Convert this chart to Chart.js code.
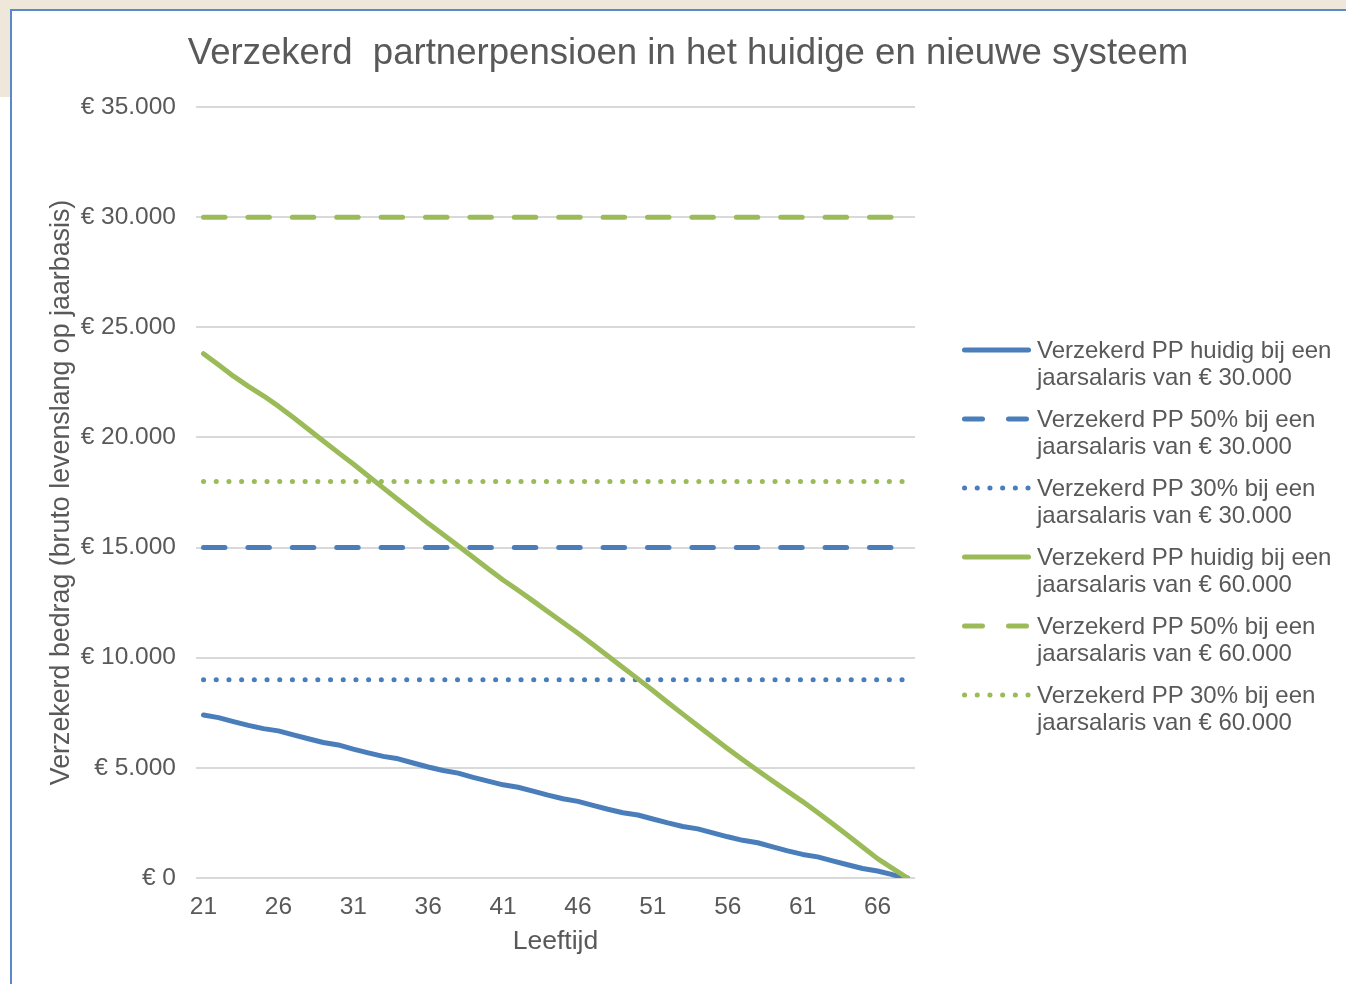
<!DOCTYPE html>
<html>
<head>
<meta charset="utf-8">
<script src="https://cdn.jsdelivr.net/npm/chart.js@4"></script>
<style>
  html, body { margin: 0; padding: 0; background: #fff; overflow: hidden; }
  body { width: 1346px; height: 984px; position: relative; font-family: "Liberation Sans", Arial, sans-serif; color: #595959; }
  #beige { position: absolute; left: 0; top: 0; width: 1346px; height: 97px; background: #efe7d9; }
  #frame { position: absolute; left: 10px; top: 9px; width: 1350px; height: 990px; background: #fff;
           border-left: 2px solid #5a8ac6; border-top: 2px solid #5a8ac6; }
  #chart { position: absolute; left: 0; top: 1px; }
  #title { position: absolute; left: 676px; top: 21px; transform: translateX(-50%); white-space: nowrap;
           font-size: 36.6px; line-height: 40px; }
  #legend { position: absolute; left: 946px; top: 325px; }
  .item { display: flex; align-items: flex-start; margin-bottom: 15px; }
  .item svg { flex: none; margin-top: 9px; margin-right: 5px; }
  .item span { font-size: 24px; line-height: 27px; }
</style>
</head>
<body>
<div id="beige"></div>
<div id="frame">
  <canvas id="chart" width="1334" height="973"></canvas>
  <div id="title">Verzekerd&nbsp; partnerpensioen in het huidige en nieuwe systeem</div>
  <div id="legend"></div>
</div>
<script>
var ages = [21, 22, 23, 24, 25, 26, 27, 28, 29, 30, 31, 32, 33, 34, 35, 36, 37, 38, 39, 40,
            41, 42, 43, 44, 45, 46, 47, 48, 49, 50, 51, 52, 53, 54, 55, 56, 57, 58, 59, 60,
            61, 62, 63, 64, 65, 66, 67, 68];

// salaris 30.000
var huidig30 = [7400, 7280, 7100, 6930, 6780, 6680, 6500, 6320, 6150, 6040, 5850, 5680, 5520, 5410, 5220, 5040,
                4880, 4760, 4570, 4400, 4230, 4120, 3940, 3760, 3600, 3480, 3300, 3120, 2960, 2860, 2680, 2500,
                2340, 2230, 2050, 1870, 1710, 1600, 1410, 1230, 1070, 960, 780, 600, 430, 320, 150, 0];
var pp50_30 = [15000, 15000, 15000, 15000, 15000, 15000, 15000, 15000, 15000, 15000, 15000, 15000, 15000, 15000, 15000, 15000,
               15000, 15000, 15000, 15000, 15000, 15000, 15000, 15000, 15000, 15000, 15000, 15000, 15000, 15000, 15000, 15000,
               15000, 15000, 15000, 15000, 15000, 15000, 15000, 15000, 15000, 15000, 15000, 15000, 15000, 15000, 15000, 15000];
var pp30_30 = [9000, 9000, 9000, 9000, 9000, 9000, 9000, 9000, 9000, 9000, 9000, 9000, 9000, 9000, 9000, 9000,
               9000, 9000, 9000, 9000, 9000, 9000, 9000, 9000, 9000, 9000, 9000, 9000, 9000, 9000, 9000, 9000,
               9000, 9000, 9000, 9000, 9000, 9000, 9000, 9000, 9000, 9000, 9000, 9000, 9000, 9000, 9000, 9000];

// salaris 60.000
var huidig60 = [23800, 23300, 22780, 22320, 21890, 21420, 20900, 20370, 19840, 19310, 18790, 18250, 17710, 17170, 16640, 16100,
                15590, 15080, 14560, 14040, 13530, 13060, 12580, 12090, 11600, 11110, 10600, 10080, 9560, 9040, 8510, 7970,
                7440, 6910, 6390, 5870, 5370, 4880, 4400, 3930, 3470, 2970, 2460, 1940, 1410, 880, 440, 0];
var pp50_60 = [30000, 30000, 30000, 30000, 30000, 30000, 30000, 30000, 30000, 30000, 30000, 30000, 30000, 30000, 30000, 30000,
               30000, 30000, 30000, 30000, 30000, 30000, 30000, 30000, 30000, 30000, 30000, 30000, 30000, 30000, 30000, 30000,
               30000, 30000, 30000, 30000, 30000, 30000, 30000, 30000, 30000, 30000, 30000, 30000, 30000, 30000, 30000, 30000];
var pp30_60 = [18000, 18000, 18000, 18000, 18000, 18000, 18000, 18000, 18000, 18000, 18000, 18000, 18000, 18000, 18000, 18000,
               18000, 18000, 18000, 18000, 18000, 18000, 18000, 18000, 18000, 18000, 18000, 18000, 18000, 18000, 18000, 18000,
               18000, 18000, 18000, 18000, 18000, 18000, 18000, 18000, 18000, 18000, 18000, 18000, 18000, 18000, 18000, 18000];

var labels = [
    "Verzekerd PP huidig bij een jaarsalaris van € 30.000",
    "Verzekerd PP 50% bij een jaarsalaris van € 30.000",
    "Verzekerd PP 30% bij een jaarsalaris van € 30.000",
    "Verzekerd PP huidig bij een jaarsalaris van € 60.000",
    "Verzekerd PP 50% bij een jaarsalaris van € 60.000",
    "Verzekerd PP 30% bij een jaarsalaris van € 60.000"
];

var blauw = "#4a7ebb";
var groen = "#9bbb59";
var dashed = [21.5, 22.9];
var dotted = [0.1, 12.6];

Chart.defaults.font.family = '"Liberation Sans", Arial, sans-serif';
Chart.defaults.color = "#595959";

function lijn(label, data, kleur, dash, order) {
    return {
        label: label,
        data: data,
        borderColor: kleur,
        backgroundColor: kleur,
        borderWidth: 5,
        borderDash: dash,
        borderCapStyle: "round",
        borderJoinStyle: "round",
        pointRadius: 0,
        tension: 0,
        fill: false,
        order: order
    };
}

var ctx = document.getElementById("chart");
var myChart = new Chart(ctx, {
    type: "line",
    data: {
        labels: ages,
        datasets: [
            lijn(labels[0], huidig30, blauw, [], 6),
            lijn(labels[1], pp50_30, blauw, dashed, 5),
            lijn(labels[2], pp30_30, blauw, dotted, 4),
            lijn(labels[3], huidig60, groen, [], 3),
            lijn(labels[4], pp50_60, groen, dashed, 2),
            lijn(labels[5], pp30_60, groen, dotted, 1)
        ]
    },
    options: {
        responsive: false,
        animation: false,
        devicePixelRatio: 1,
        layout: { padding: { left: 30, right: 431, top: 95, bottom: 27 } },
        plugins: {
            legend: { display: false },
            title: { display: false },
            tooltip: { enabled: false }
        },
        scales: {
            x: {
                offset: true,
                grid: { display: false, drawTicks: false },
                border: { display: false },
                ticks: {
                    autoSkip: false,
                    maxRotation: 0,
                    padding: 15,
                    font: { size: 24.5 },
                    callback: function (val, i) {
                        return i % 5 === 0 ? this.getLabelForValue(val) : "";
                    }
                },
                title: {
                    display: true,
                    text: "Leeftijd",
                    font: { size: 26.5 },
                    padding: { top: 0, bottom: 0 }
                },
                afterFit: function (s) { s.height = 80; }
            },
            y: {
                min: 0,
                max: 35000,
                grid: { color: "#d9d9d9", lineWidth: 2, drawTicks: false },
                border: { display: false },
                ticks: {
                    stepSize: 5000,
                    padding: 20,
                    font: { size: 24.5 },
                    callback: function (v) {
                        return "€ " + String(v).replace(/\B(?=(\d{3})+(?!\d))/g, ".");
                    }
                },
                title: {
                    display: true,
                    text: "Verzekerd bedrag (bruto levenslang op jaarbasis)",
                    font: { size: 26.8 },
                    padding: { top: 4, bottom: 0 }
                },
                afterFit: function (s) { s.width = 154; }
            }
        }
    }
});

// legenda in twee regels, zoals in het origineel
var legend = document.getElementById("legend");
myChart.data.datasets.forEach(function (ds) {
    var parts = ds.label.split(" jaarsalaris");
    var dash = ds.borderDash.length ? ds.borderDash === dotted ? "0.1 12.6" : "18 26" : "none";
    var item = document.createElement("div");
    item.className = "item";
    item.innerHTML =
        '<svg width="74" height="10"><line x1="6.5" y1="5" x2="70.5" y2="5" stroke="' + ds.borderColor +
        '" stroke-width="5" stroke-linecap="round" stroke-dasharray="' + dash + '"/></svg>' +
        "<span>" + parts[0] + "<br>jaarsalaris" + parts[1] + "</span>";
    legend.appendChild(item);
});
</script>
</body>
</html>
